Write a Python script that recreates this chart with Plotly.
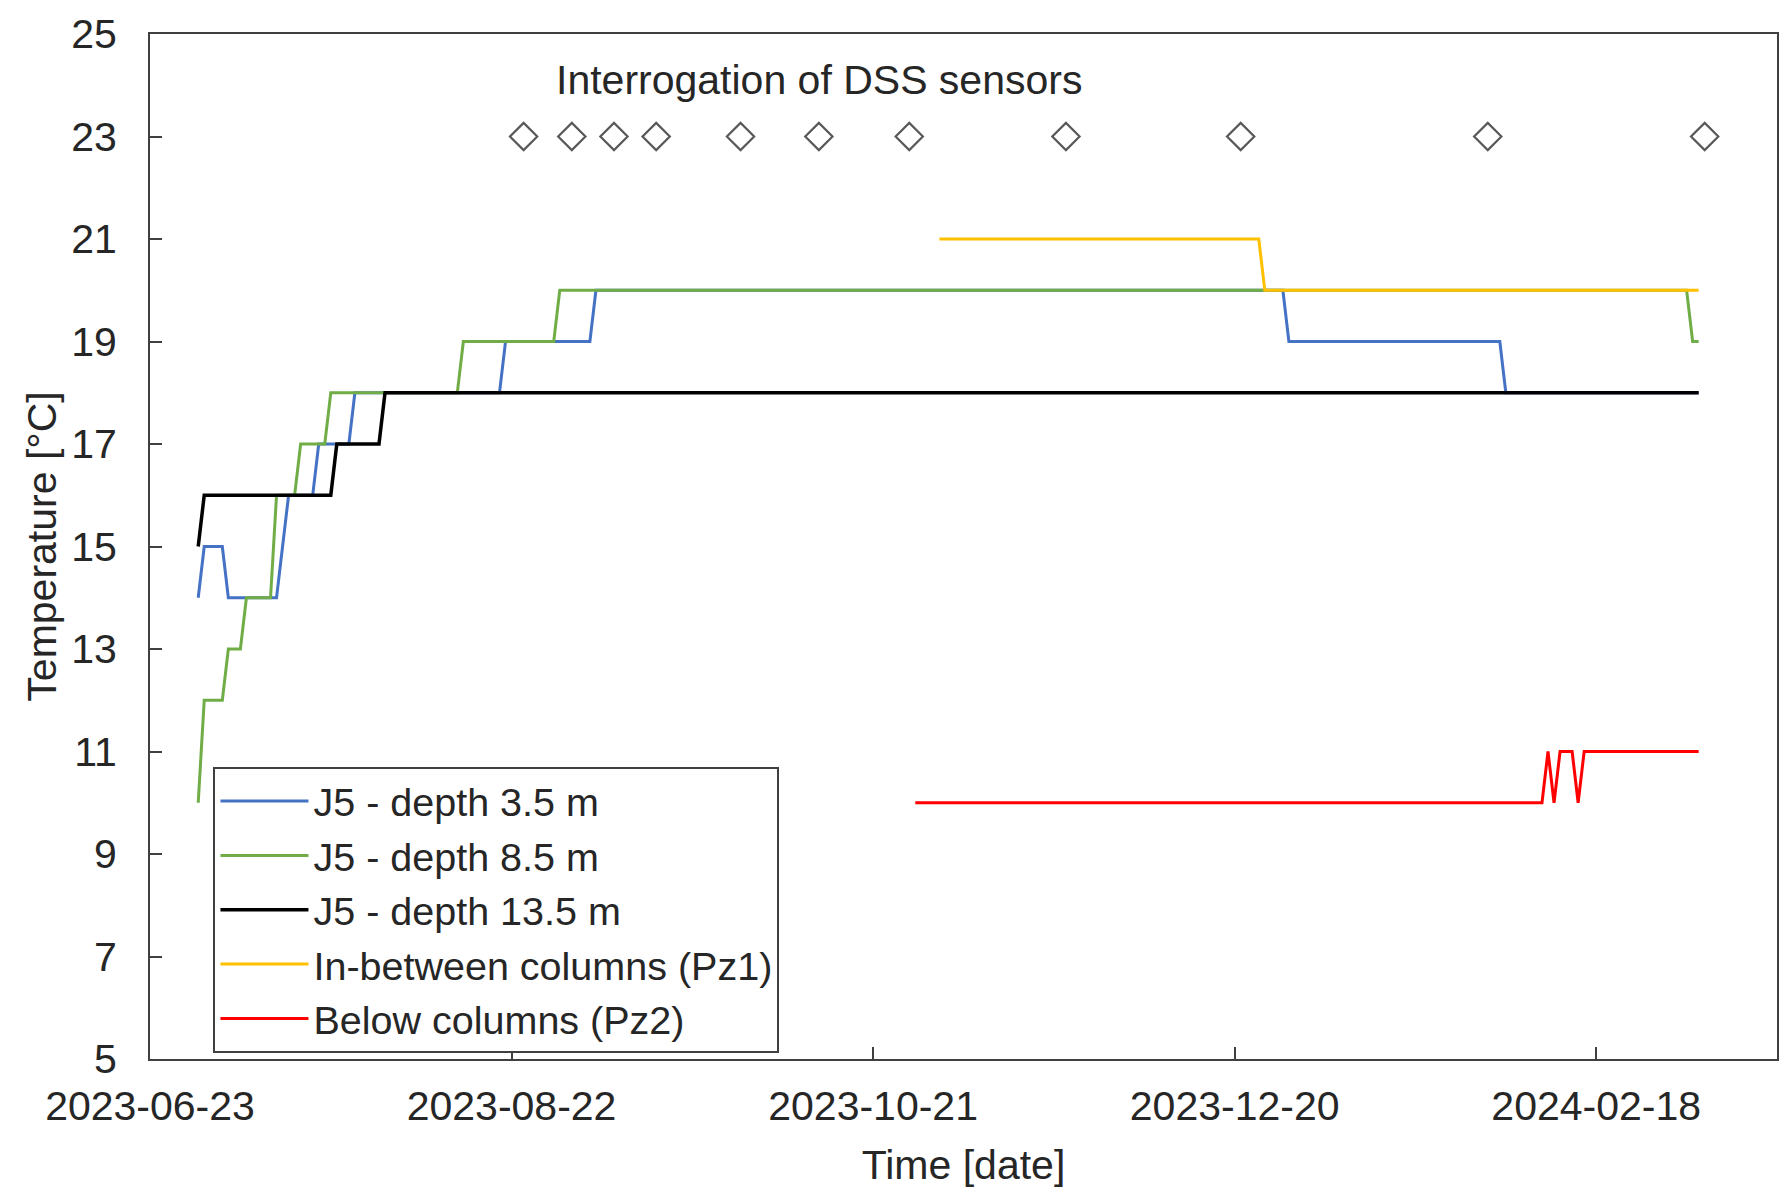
import plotly.graph_objects as go

# J5 thermistor string, depth 3.5 m
j5_35_dates = ["2023-07-01", "2023-07-02", "2023-07-05", "2023-07-06", "2023-07-14",
               "2023-07-16", "2023-07-20", "2023-07-21", "2023-07-26", "2023-07-27",
               "2023-08-20", "2023-08-21", "2023-09-04", "2023-09-05", "2023-12-28",
               "2023-12-29", "2024-02-02", "2024-02-03", "2024-03-06"]
j5_35_temp = [14, 15, 15, 14, 14, 16, 16, 17, 17, 18, 18, 19, 19, 20, 20, 19, 19, 18, 18]

# J5 thermistor string, depth 8.5 m
j5_85_dates = ["2023-07-01", "2023-07-02", "2023-07-05", "2023-07-06", "2023-07-08",
               "2023-07-09", "2023-07-13", "2023-07-14", "2023-07-17", "2023-07-18",
               "2023-07-22", "2023-07-23", "2023-08-13", "2023-08-14", "2023-08-29",
               "2023-08-30", "2024-03-04", "2024-03-05", "2024-03-06"]
j5_85_temp = [10, 12, 12, 13, 13, 14, 14, 16, 16, 17, 17, 18, 18, 19, 19, 20, 20, 19, 19]

# J5 thermistor string, depth 13.5 m
j5_135_dates = ["2023-07-01", "2023-07-02", "2023-07-23", "2023-07-24", "2023-07-31",
                "2023-08-01", "2024-03-06"]
j5_135_temp = [15, 16, 16, 17, 17, 18, 18]

# Piezometer Pz1, in-between columns
pz1_dates = ["2023-11-01", "2023-12-24", "2023-12-25", "2024-03-06"]
pz1_temp = [21, 21, 20, 20]

# Piezometer Pz2, below columns
pz2_dates = ["2023-10-28", "2024-02-09", "2024-02-10", "2024-02-11", "2024-02-12",
             "2024-02-14", "2024-02-15", "2024-02-16", "2024-03-06"]
pz2_temp = [10, 10, 11, 10, 11, 11, 10, 11, 11]

# Dates on which the DSS sensors were read
dss_dates = ["2023-08-24", "2023-09-01", "2023-09-08", "2023-09-15", "2023-09-29",
             "2023-10-12", "2023-10-27", "2023-11-22", "2023-12-21", "2024-01-31",
             "2024-03-07"]
dss_level = [23] * len(dss_dates)

x_ticks = ["2023-06-23", "2023-08-22", "2023-10-21", "2023-12-20", "2024-02-18"]
x_range = ["2023-06-23", "2024-03-19"]
y_range = [5, 25]

FONT = "Liberation Sans, Arial, sans-serif"
TXT = "#262626"
AX = "#404040"
FS = 41
FS_LEG = 39.5

series = [
    ("J5 - depth 3.5 m", j5_35_dates, j5_35_temp, "#4472C4", 3),
    ("J5 - depth 8.5 m", j5_85_dates, j5_85_temp, "#70AD47", 3),
    ("J5 - depth 13.5 m", j5_135_dates, j5_135_temp, "#000000", 3.5),
    ("In-between columns (Pz1)", pz1_dates, pz1_temp, "#FFC000", 3),
    ("Below columns (Pz2)", pz2_dates, pz2_temp, "#FF0000", 3),
]

fig = go.Figure()

fig.add_trace(go.Scatter(
    x=dss_dates, y=dss_level, mode="markers", showlegend=False,
    marker=dict(symbol="diamond-open", size=21, color="#595959",
                line=dict(width=2.2, color="#595959")),
))

for name, xs, ys, color, w in series:
    fig.add_trace(go.Scatter(x=xs, y=ys, mode="lines", name=name,
                             line=dict(color=color, width=w)))

fig.add_annotation(x="2023-10-12", y=24.1, text="Interrogation of DSS sensors",
                   showarrow=False, font=dict(family=FONT, size=FS, color=TXT))

fig.update_layout(
    width=1786, height=1199,
    margin=dict(l=150, r=7, t=34, b=140),
    paper_bgcolor="white", plot_bgcolor="white",
    font=dict(family=FONT, size=FS, color=TXT),
    legend=dict(x=0.039, y=0.285, xanchor="left", yanchor="top",
                bgcolor="white", bordercolor=AX, borderwidth=2,
                itemwidth=88,
                font=dict(family=FONT, size=FS_LEG, color=TXT),
                tracegroupgap=0),
)

fig.update_xaxes(
    range=x_range, tickvals=x_ticks, tickformat="%Y-%m-%d",
    showgrid=False, zeroline=False,
    showline=True, linecolor=AX, linewidth=2, mirror=True,
    ticks="inside", ticklen=12, tickwidth=2, tickcolor=AX,
    ticklabelstandoff=10,
    tickfont=dict(family=FONT, size=FS, color=TXT),
    title=dict(text="Time [date]", font=dict(family=FONT, size=FS, color=TXT), standoff=22),
)

fig.update_yaxes(
    range=y_range, tick0=5, dtick=2,
    showgrid=False, zeroline=False,
    showline=True, linecolor=AX, linewidth=2, mirror=True,
    ticks="inside", ticklen=12, tickwidth=2, tickcolor=AX,
    ticklabelstandoff=23,
    tickfont=dict(family=FONT, size=FS, color=TXT),
    title=dict(text="Temperature [°C]", font=dict(family=FONT, size=FS, color=TXT), standoff=2),
)

fig.write_html("out.html")
